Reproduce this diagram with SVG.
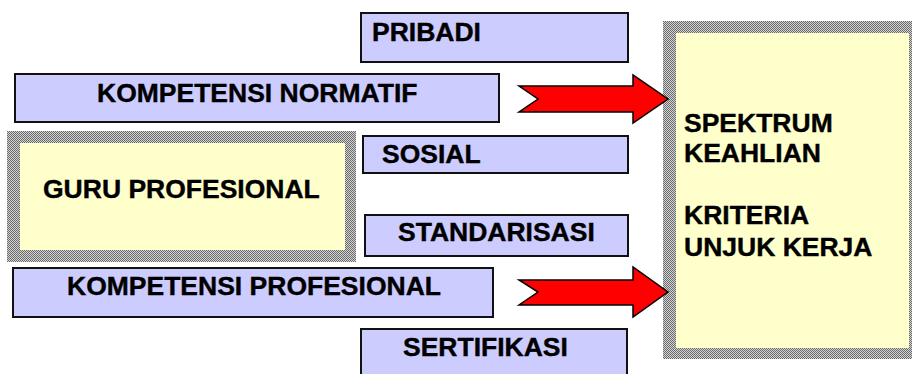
<svg xmlns="http://www.w3.org/2000/svg" width="912" height="374" viewBox="0 0 912 374">
<style>
.blue{fill:#CCCCFF;stroke:#111;stroke-width:2}
.yellow{fill:#FFFFCC}
.frame{fill:url(#dither)}
.t{font-family:"Liberation Sans",Arial,sans-serif;font-weight:bold;font-size:26.5px;fill:#000;stroke:#000;stroke-width:0.4}
.arrow{fill:#FF0000;stroke:#000;stroke-width:1.5;stroke-linejoin:miter}
</style>
<defs>
<pattern id="dither" width="2" height="2" patternUnits="userSpaceOnUse">
<rect width="2" height="2" fill="#d4d4d4"/>
<rect width="1" height="1" fill="#6a6a6a"/>
<rect x="1" y="1" width="1" height="1" fill="#6a6a6a"/>
</pattern>
</defs>
<rect width="912" height="374" fill="#fff"/>
<g id="guru-profesional">
<rect class="frame" x="7" y="131" width="349" height="131"/>
<rect class="yellow" x="20" y="143" width="325" height="107"/>
<text class="t" x="43" y="198">GURU PROFESIONAL</text>
</g>
<g id="spektrum">
<rect class="frame" x="663" y="21" width="249" height="338"/>
<rect class="yellow" x="676" y="33" width="233" height="315"/>
<text class="t" x="684" y="132">SPEKTRUM</text>
<text class="t" x="684" y="162">KEAHLIAN</text>
<text class="t" x="684" y="224">KRITERIA</text>
<text class="t" x="684" y="256">UNJUK KERJA</text>
</g>
<g id="pribadi">
<rect class="blue" x="361" y="13" width="267" height="49"/>
<text class="t" x="372" y="41">PRIBADI</text>
</g>
<g id="kompetensi-normatif">
<rect class="blue" x="15" y="74" width="484" height="48"/>
<text class="t" x="97" y="102">KOMPETENSI NORMATIF</text>
</g>
<g id="sosial">
<rect class="blue" x="363" y="136" width="265" height="37"/>
<text class="t" x="382" y="163">SOSIAL</text>
</g>
<g id="standarisasi">
<rect class="blue" x="365" y="215" width="263" height="41"/>
<text class="t" x="398" y="241">STANDARISASI</text>
</g>
<g id="kompetensi-profesional">
<rect class="blue" x="13" y="268" width="480" height="49"/>
<text class="t" x="67" y="295">KOMPETENSI PROFESIONAL</text>
</g>
<g id="sertifikasi">
<rect class="blue" x="361" y="329" width="266" height="50"/>
<text class="t" x="403" y="356">SERTIFIKASI</text>
</g>
<g id="connectors">
<polygon class="arrow" points="519,86 633,86 633,75 668,99 633,123 633,112 519,112 538,99"/>
<polygon class="arrow" points="519,280 633,280 633,267 668,292 633,317 633,305 519,305 538,292"/>
</g>
</svg>
